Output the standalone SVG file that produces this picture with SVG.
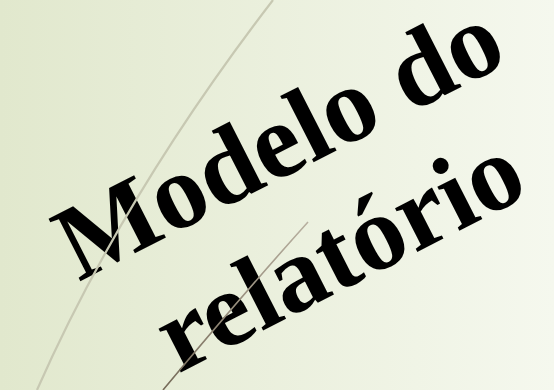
<svg xmlns="http://www.w3.org/2000/svg" width="554" height="390" viewBox="0 0 554 390">
<defs>
<linearGradient id="bg" x1="0" y1="0" x2="1" y2="0">
<stop offset="0" stop-color="#e1e8cd"/>
<stop offset="1" stop-color="#f5f8ee"/>
</linearGradient>
<linearGradient id="ln2" x1="308" y1="222" x2="163" y2="390" gradientUnits="userSpaceOnUse">
<stop offset="0" stop-color="#b8b0a0"/>
<stop offset="1" stop-color="#756a58"/>
</linearGradient>
<style>
.title{font-family:"Liberation Serif","Times New Roman",serif;font-weight:bold;font-size:107px;fill:#000;text-anchor:middle}
</style>
</defs>
<rect width="554" height="390" fill="url(#bg)"/>
<g id="title" transform="translate(294.5,172) rotate(-27)">
<text class="title" x="0" y="0">Modelo do</text>
<text class="title" x="3" y="127">relatório</text>
</g>
<g id="lines" fill="none">
<path d="M273,0 Q123,195 37,390" stroke="#c7c8b2" stroke-width="2.2"/>
<path d="M308,222 Q245,292 163,390" stroke="url(#ln2)" stroke-width="1.6"/>
</g>
</svg>
